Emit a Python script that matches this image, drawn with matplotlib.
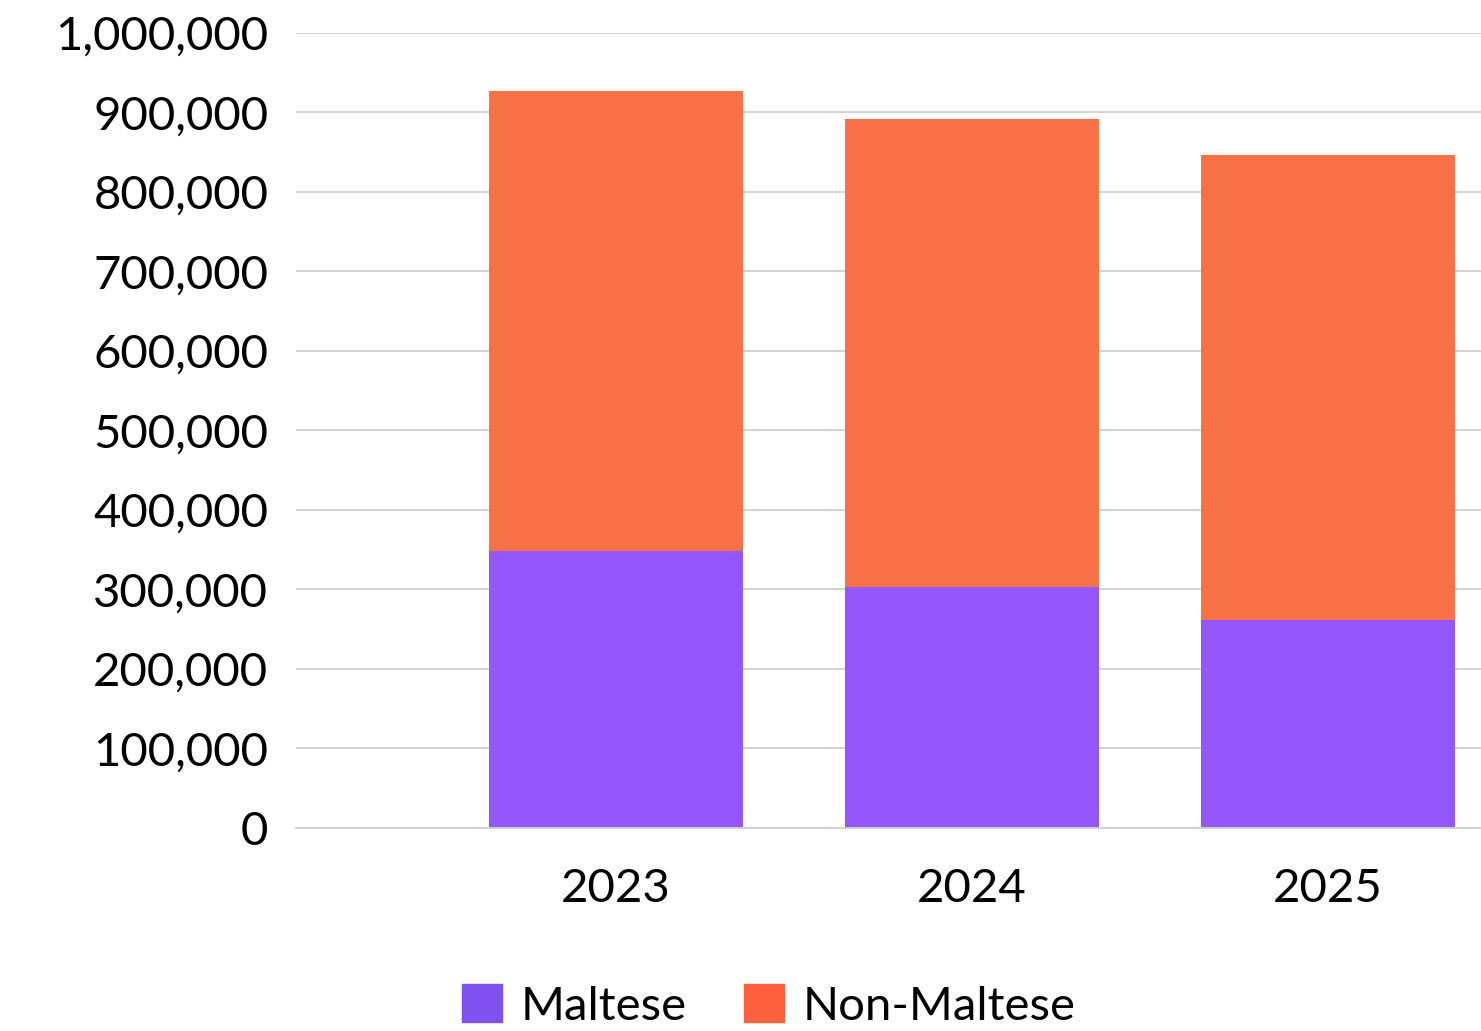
import matplotlib
matplotlib.use("Agg")
import matplotlib.pyplot as plt
from matplotlib.patches import Patch
from matplotlib.ticker import FuncFormatter, MultipleLocator
import numpy as np

# data
years = ["2023", "2024", "2025"]
maltese = [348000, 303000, 262000]
non_maltese = [579000, 589000, 585000]

purple = "#9457FB"
orange = "#F77046"

plt.rcParams['font.family'] = ['Lato', 'DejaVu Sans']

fig = plt.figure(figsize=(14.81, 10.31), dpi=100)
ax = fig.add_axes([0.1999, 0.197, 0.8001, 0.771])

x = np.arange(len(years))
ax.bar(x, maltese, width=0.715, color=purple, zorder=2)
ax.bar(x, non_maltese, width=0.715, bottom=maltese, color=orange, zorder=2)

ax.set_ylim(0, 1000000)
ax.set_xlim(-0.899, 2.43)
ax.yaxis.set_major_locator(MultipleLocator(100000))
ax.yaxis.set_major_formatter(FuncFormatter(lambda v, p: f"{int(v):,}"))
ax.set_xticks(x)
ax.set_xticklabels(years)

ax.grid(axis="y", color="#d0d0d0", linewidth=1.3, zorder=0)
for s in ["top", "right", "left"]:
    ax.spines[s].set_visible(False)
ax.spines["bottom"].set_color("#d0d0d0")
ax.spines["bottom"].set_linewidth(1.3)
ax.spines["bottom"].set_zorder(3)

ax.tick_params(axis="y", length=0, pad=20, labelsize=34)
ax.tick_params(axis="x", length=0, pad=29, labelsize=34)

handles = [Patch(color="#8150F0", label="Maltese"),
           Patch(color="#FF6040", label="Non-Maltese")]
fig.legend(handles=handles, loc="lower center", bbox_to_anchor=(0.519, -0.038),
           ncol=2, frameon=False, fontsize=34, handlelength=0.85,
           handleheight=0.85, handletextpad=0.4, columnspacing=1.2)

fig.savefig("out.png", dpi=100)
